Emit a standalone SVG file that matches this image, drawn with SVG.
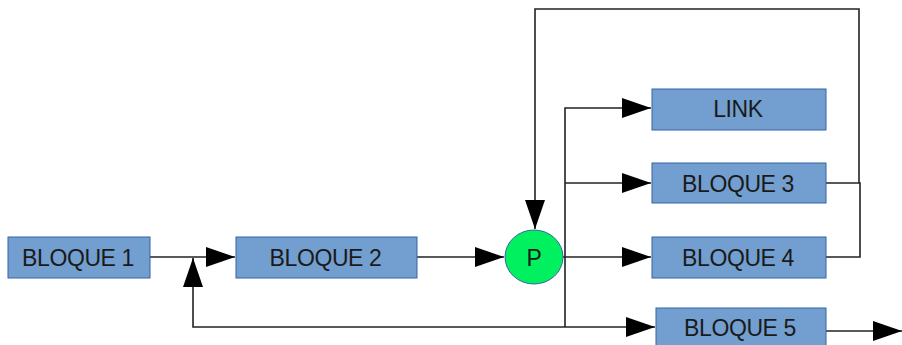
<svg xmlns="http://www.w3.org/2000/svg" width="902" height="345" viewBox="0 0 902 345">
<style>
.box{fill:#729fcf;stroke:#3465a4;stroke-width:1}
.lbl{font-family:"Liberation Sans",Arial,sans-serif;font-size:23px;letter-spacing:-0.4px;fill:#1a1a1a;text-anchor:middle;dominant-baseline:central}
.ln{fill:none;stroke:#222;stroke-width:1.6}
</style>
<defs>
<marker id="ah" markerUnits="userSpaceOnUse" markerWidth="30" markerHeight="20" refX="29" refY="10" orient="auto">
<path d="M0,0 L29,10 L0,20 Z" fill="#000"/>
</marker>
</defs>
<g id="connectors">
<path class="ln" d="M150,257 H235" marker-end="url(#ah)"/>
<path class="ln" d="M565,327 H193 V258" marker-end="url(#ah)"/>
<path class="ln" d="M417,257 H504" marker-end="url(#ah)"/>
<path class="ln" d="M565,327 V108 H651" marker-end="url(#ah)"/>
<path class="ln" d="M565,183 H651" marker-end="url(#ah)"/>
<path class="ln" d="M563,257 H651" marker-end="url(#ah)"/>
<path class="ln" d="M565,327 H655" marker-end="url(#ah)"/>
<path class="ln" d="M826,257 H860 V183 H826"/>
<path class="ln" d="M859,183 V9 H535 V229" marker-end="url(#ah)"/>
<path class="ln" d="M826,331 H902" marker-end="url(#ah)"/>
</g>
<g id="bloque1"><rect class="box" x="8" y="237" width="142" height="41"/><text class="lbl" x="78" y="258">BLOQUE 1</text></g>
<g id="bloque2"><rect class="box" x="236" y="237" width="181" height="41"/><text class="lbl" x="325.5" y="258">BLOQUE 2</text></g>
<g id="p"><ellipse cx="534" cy="257" rx="29" ry="27" fill="#00f060" stroke="#3465a4" stroke-width="1"/><text class="lbl" x="534" y="258">P</text></g>
<g id="link"><rect class="box" x="652" y="89" width="174" height="41"/><text class="lbl" x="738" y="109">LINK</text></g>
<g id="bloque3"><rect class="box" x="652" y="163" width="174" height="40"/><text class="lbl" x="738" y="183.5">BLOQUE 3</text></g>
<g id="bloque4"><rect class="box" x="652" y="237" width="174" height="41"/><text class="lbl" x="738" y="258">BLOQUE 4</text></g>
<g id="bloque5"><rect class="box" x="656" y="308" width="170" height="41"/><text class="lbl" x="740" y="328">BLOQUE 5</text></g>
</svg>
